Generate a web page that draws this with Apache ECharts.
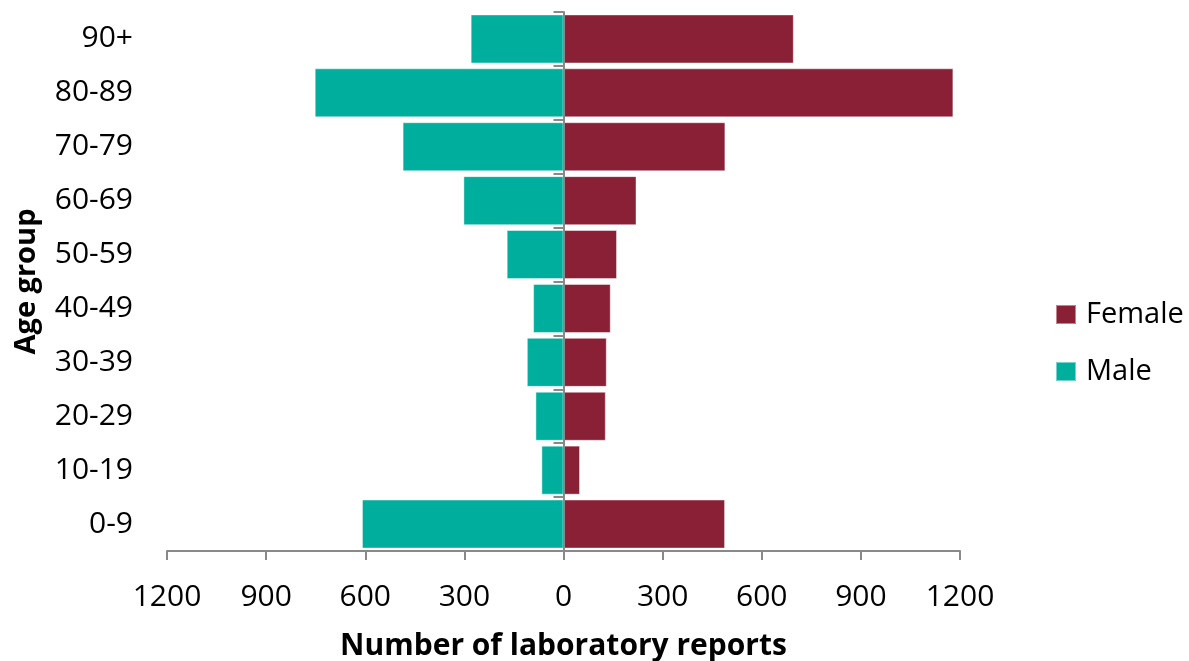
<!DOCTYPE html>
<html>
<head>
<meta charset="utf-8">
<title>Laboratory reports by age group and sex</title>
<script src="https://cdn.jsdelivr.net/npm/echarts@6/dist/echarts.min.js"></script>
<style>
  html, body { margin: 0; padding: 0; background: #fff; }
  #chart { width: 1189px; height: 661px; }
</style>
</head>
<body>
<div id="chart"></div>
<script>
// 年龄组（从下到上）
var ageGroups = ['0-9', '10-19', '20-29', '30-39', '40-49', '50-59', '60-69', '70-79', '80-89', '90+'];
// 女性报告数
var femaleData = [489, 50, 128, 131, 143, 162, 221, 490, 1180, 697];
// 男性报告数（画在左边，取负值）
var maleData = [610, 67, 85, 111, 92, 172, 303, 487, 753, 281];
// x 轴刻度
var xTicks = [-1200, -900, -600, -300, 0, 300, 600, 900, 1200];

var axisGrey = '#898989';
var font = 'Open Sans';

var chart = echarts.init(document.getElementById('chart'));

var option = {
  animation: false,
  textStyle: { fontFamily: font },
  color: ['#8A2035', '#00AE9D'],
  grid: {
    left: 167,
    right: 229,
    top: 12,
    bottom: 110,
    outerBoundsMode: 'none'
  },
  legend: {
    orient: 'vertical',
    left: 1050,
    top: 295,
    icon: 'rect',
    itemWidth: 20,
    itemHeight: 19,
    itemGap: 28,
    data: ['Female', 'Male'],
    textStyle: { fontSize: 29, color: '#000', fontFamily: font, padding: [0, 0, 0, 5] }
  },
  xAxis: {
    type: 'value',
    min: xTicks[0],
    max: xTicks[xTicks.length - 1],
    interval: 300,
    splitLine: { show: false },
    axisLine: { show: true, lineStyle: { color: axisGrey, width: 2 } },
    axisTick: { show: true, length: 9, lineStyle: { color: axisGrey, width: 2 } },
    axisLabel: {
      margin: 31,
      fontSize: 30,
      color: '#000',
      fontFamily: font,
      formatter: function (v) { return Math.abs(v); }
    },
    name: 'Number of laboratory reports',
    nameLocation: 'middle',
    nameGap: 80,
    nameTextStyle: { fontSize: 30, fontWeight: 'bold', color: '#000', fontFamily: font }
  },
  yAxis: [
    {
      // 中间的竖轴（在 0 处）
      type: 'category',
      data: ageGroups,
      z: 10,
      axisLine: { show: true, onZero: true, lineStyle: { color: axisGrey, width: 2 } },
      axisTick: { show: true, length: 10, lineStyle: { color: axisGrey, width: 2 } },
      axisLabel: { show: false },
      splitLine: { show: false }
    },
    {
      // 左边的年龄组标签
      type: 'category',
      data: ageGroups,
      position: 'left',
      axisLine: { show: false, onZero: false },
      axisTick: { show: false },
      splitLine: { show: false },
      axisLabel: { margin: 34, fontSize: 30, color: '#000', fontFamily: font },
      name: 'Age group',
      nameLocation: 'middle',
      nameRotate: 90,
      nameGap: 126,
      nameTextStyle: { fontSize: 29, fontWeight: 'bold', color: '#000', fontFamily: font }
    }
  ],
  series: [
    {
      name: 'Female',
      type: 'bar',
      stack: 'total',
      yAxisIndex: 0,
      barCategoryGap: '9%',
      itemStyle: { borderColor: 'rgba(255,255,255,0.45)', borderWidth: 1 },
      data: femaleData
    },
    {
      name: 'Male',
      type: 'bar',
      stack: 'total',
      yAxisIndex: 0,
      barCategoryGap: '9%',
      itemStyle: { borderColor: 'rgba(255,255,255,0.45)', borderWidth: 1 },
      data: maleData.map(function (v) { return -v; })
    }
  ]
};

chart.setOption(option);
</script>
</body>
</html>
